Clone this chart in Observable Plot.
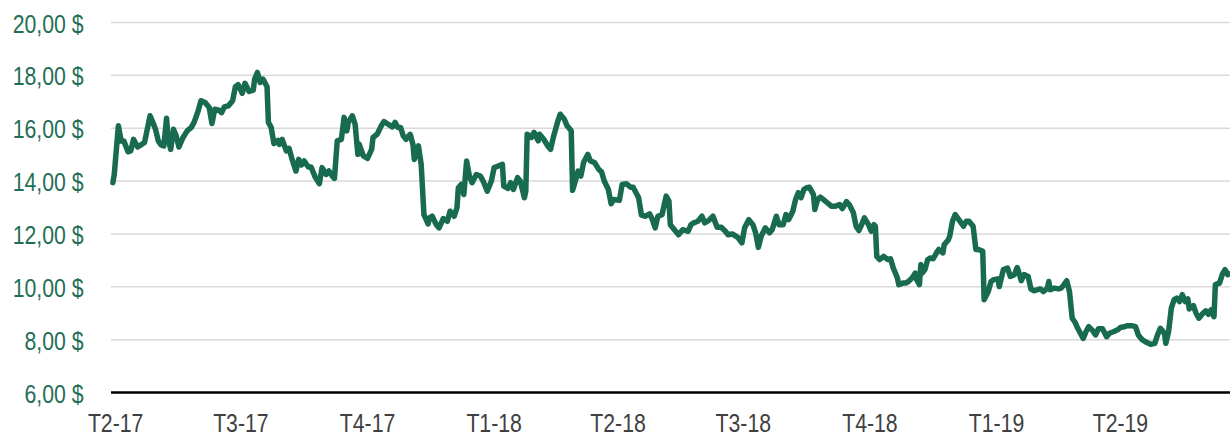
<!DOCTYPE html>
<html>
<head>
<meta charset="utf-8">
<script src="https://cdn.jsdelivr.net/npm/d3@7"></script>
<script src="https://cdn.jsdelivr.net/npm/@observablehq/plot@0.6"></script>
<style>
  html, body { margin: 0; padding: 0; background: #fff; }
  #chart svg { display: block; }
</style>
</head>
<body>
<div id="chart"></div>
<script>
// Jours écoulés depuis le 1er avril 2017 (début du T2-17)
const jours = [
  -2,-1,2,4,6,9,11,13,16,19,21,23,25,27,29,31,33,35,37,38,40,42,44,46,49,52,55,57,60,62,65,68,70,72,75,77,79,82,85,87,89,92,94,97,100,101,103,105,107,108,110,111,113,115,118,119,121,124,126,128,131,133,135,137,140,142,145,148,150,153,155,158,
  159,161,164,166,168,169,172,174,176,177,180,183,186,187,190,193,195,198,201,203,205,207,209,211,214,216,217,219,220,222,224,227,228,230,233,235,238,241,243,246,248,249,251,253,255,257,259,262,265,267,270,273,275,278,281,282,285,287,289,292,294,297,298,299,302,304,307,308,311,314,316,318,321,
  323,326,328,331,332,334,336,338,340,343,345,348,351,353,355,358,360,362,366,368,371,374,376,380,382,385,388,390,392,394,397,400,402,403,406,409,412,416,418,420,423,426,428,431,434,437,440,443,445,448,452,455,457,460,463,465,467,469,472,475,477,480,482,485,487,489,492,
  494,496,498,500,502,504,507,508,510,512,515,517,520,523,526,528,531,533,536,538,540,542,544,547,549,551,552,553,555,558,561,563,565,568,569,572,574,576,579,581,582,584,585,586,588,590,592,594,597,598,601,602,605,606,608,610,613,616,618,620,623,625,627,630,631,634,636,638,641,642,
  645,648,650,653,655,656,658,660,663,665,667,670,672,674,677,678,679,682,685,687,689,691,693,695,697,699,703,705,707,710,712,714,717,720,722,725,728,730,733,735,738,741,743,746,749,752,755,757,759,762,763,765,767,769,771,773,775,777,779,780,783,785,787,790,792,794,796,798,799,802,804,806,808,809
];
// Cours de clôture ($)
const cours = [
  13.94,14.25,16.09,15.52,15.52,15.11,15.14,15.58,15.29,15.39,15.46,15.96,16.47,16.22,15.96,15.52,15.37,15.33,16.38,15.65,15.2,15.96,15.71,15.29,15.65,15.9,16.03,16.22,16.66,17.04,16.97,16.78,16.18,16.72,16.68,16.59,16.81,16.85,17.04,17.57,17.65,17.32,17.70,17.39,17.44,17.86,18.11,17.73,17.86,17.77,17.57,16.22,16.03,15.42,15.54,15.39,15.58,15.14,15.24,14.86,14.38,14.82,14.61,14.76,14.53,14.53,14.15,13.9,14.51,14.25,14.38,14.15,
  14.1,15.52,15.58,16.41,15.9,16.22,16.47,16.15,15.01,15.39,14.95,14.86,15.2,15.65,15.77,16.09,16.25,16.15,16.05,16.22,16.03,16.03,15.71,15.58,15.77,15.39,14.82,15.14,15.33,14.63,12.73,12.38,12.61,12.67,12.35,12.23,12.58,12.48,12.86,12.67,12.99,13.75,13.87,13.49,14.76,14.19,13.94,14.25,14.19,14.0,13.62,14.0,14.51,14.57,14.63,13.81,13.72,13.94,13.68,14.13,14.0,13.37,13.62,15.77,15.65,15.84,15.52,15.77,15.58,15.33,15.2,15.65,16.22,
  16.53,16.34,16.09,15.9,13.65,14.0,14.38,14.19,14.7,15.01,14.76,14.7,14.44,14.35,14.0,13.68,13.14,13.3,13.27,13.87,13.9,13.77,13.77,13.37,12.71,12.67,12.76,12.54,12.23,12.67,12.73,13.43,13.24,12.35,12.16,11.97,12.16,12.1,12.35,12.42,12.48,12.67,12.42,12.51,12.67,12.25,12.25,12.1,11.97,12.0,11.87,11.66,12.23,12.54,12.35,12.04,11.49,11.91,12.23,12.04,12.16,12.67,12.35,12.35,12.73,12.54,12.86,
  13.3,13.56,13.37,13.68,13.75,13.77,13.49,12.92,13.3,13.39,13.27,13.18,13.05,13.05,13.11,12.96,13.22,13.11,12.8,12.29,12.13,12.35,12.61,12.35,12.1,12.35,12.29,11.15,11.03,11.15,11.03,11.06,10.71,10.33,10.08,10.14,10.14,10.2,10.35,10.52,10.27,10.08,10.84,10.52,10.65,11.03,11.09,11.06,11.34,11.41,11.28,11.59,11.78,11.91,12.48,12.73,12.51,12.29,12.48,12.48,12.29,11.41,11.41,11.34,9.51,9.82,10.2,10.27,10.3,10.01,
  10.65,10.71,10.39,10.46,10.73,10.58,10.23,10.46,10.39,9.92,9.85,9.89,9.92,9.82,9.95,10.2,9.89,9.95,9.92,9.95,10.08,10.23,9.82,8.81,8.66,8.43,8.05,8.3,8.49,8.33,8.18,8.41,8.41,8.11,8.24,8.3,8.37,8.46,8.49,8.53,8.53,8.49,8.18,7.99,7.9,7.82,7.86,8.18,8.43,8.24,7.86,8.3,9.19,9.51,9.57,9.44,9.7,9.44,9.54,9.16,9.29,9.0,8.81,9.0,9.09,8.96,9.13,8.87,10.08,10.14,10.46,10.65,10.46,10.49
];
// Étiquettes de l'axe horizontal (début de chaque trimestre)
const trimestres = ["T2-17","T3-17","T4-17","T1-18","T2-18","T3-18","T4-18","T1-19","T2-19"];
const debutsTrimestres = ["2017-04-01","2017-07-01","2017-10-01","2018-01-01","2018-04-01","2018-07-01","2018-10-01","2019-01-01","2019-04-01"];
// Graduations de l'axe vertical
const graduationsY = [6, 8, 10, 12, 14, 16, 18, 20];

const origine = Date.UTC(2017, 3, 1);
const jour = 864e5;
const data = jours.map((j, i) => ({date: new Date(origine + j * jour), cours: cours[i]}));
const ticksX = debutsTrimestres.map(s => new Date(s + "T00:00:00Z"));
const labelX = new Map(ticksX.map((d, i) => [+d, trimestres[i]]));

const font = "'Liberation Sans', Arial, sans-serif";

const chart = Plot.plot({
  width: 1230,
  height: 438,
  marginLeft: 111,
  marginRight: 0,
  marginTop: 22,
  marginBottom: 46,
  style: {fontFamily: font, background: "#fff"},
  x: {type: "utc", domain: [new Date(origine - 3 * jour), new Date(origine + 810 * jour)]},
  y: {domain: [6, 20]},
  marks: [
    Plot.gridY(graduationsY.filter(d => d !== 6), {stroke: "#d9d9d9", strokeOpacity: 1, strokeWidth: 1.5}),
    Plot.axisY(graduationsY, {
      tickSize: 0, tickPadding: 28, fontSize: 25, fill: "#1f6e55", dy: 2,
      tickFormat: d => d.toFixed(2).replace(".", ",") + " $", label: null
    }),
    Plot.axisX(ticksX, {
      tickSize: 0, tickPadding: 22, fontSize: 25, fill: "#404040",
      tickFormat: d => labelX.get(+d), label: null
    }),
    Plot.line(data, {x: "date", y: "cours", stroke: "#186a51", strokeWidth: 5.5, strokeLinejoin: "round", strokeLinecap: "round"}),
    Plot.ruleY([6], {stroke: "#000", strokeWidth: 2.5})
  ]
});

// Libellés en style « Arial Narrow » : compression horizontale de chaque texte d'axe
chart.querySelectorAll('g[aria-label$="tick label"] text').forEach(t => {
  const tr = t.getAttribute("transform");
  if (tr) t.setAttribute("transform", tr + " scale(0.85,1)");
});
document.getElementById("chart").appendChild(chart);
</script>
</body>
</html>
